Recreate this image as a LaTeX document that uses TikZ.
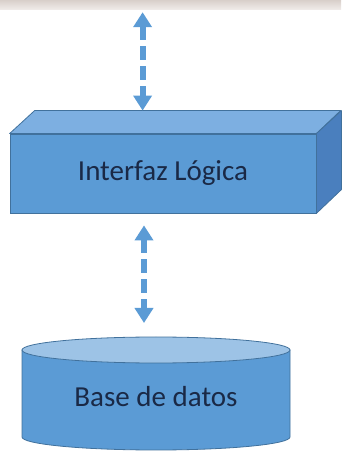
\documentclass[tikz,border=0pt]{standalone}
\usepackage{fontspec}
\setmainfont{Carlito}
\usetikzlibrary{arrows.meta,positioning,calc}
\definecolor{flechaazul}{HTML}{5B9BD5}
\definecolor{frenteazul}{HTML}{5B9BD5}
\definecolor{tapaazul}{HTML}{7DAFE1}
\definecolor{ladoazul}{HTML}{4A7FBE}
\definecolor{bordeazul}{HTML}{41719C}
\definecolor{cilazul}{HTML}{5B9BD5}
\definecolor{cilclaro}{HTML}{9DC3E6}
\definecolor{textoazul}{HTML}{1A2946}
\definecolor{franjaoscura}{HTML}{D8CFCA}
\definecolor{franjaclara}{HTML}{F1EDEB}

\begin{document}
\begin{tikzpicture}[
  x=1pt, y=1pt,
  flecha/.style={{Triangle[width=18pt,length=15pt]}-{Triangle[width=18pt,length=15pt]}, draw=flechaazul, line width=6pt, dash pattern=on 14pt off 6pt},
  franja/.style={minimum width=341pt, minimum height=10pt, inner sep=0pt, top color=franjaoscura, bottom color=franjaclara},
  frente/.style={rectangle, draw=bordeazul, fill=frenteazul, line width=0.8pt, minimum width=306pt, minimum height=79pt, inner sep=0pt},
  cara/.style={draw=bordeazul, line width=0.8pt, line join=round},
  cilborde/.style={draw=bordeazul, line width=0.8pt},
  etiqueta/.style={font=\fontsize{29}{33}\selectfont, text=textoazul}
]
  \useasboundingbox (0,0) rectangle (341,453);

  \node[franja] (franja) at (170.5,448) {};

  \node[frente, etiqueta] (logica) at (163,279.5) {Interfaz Lógica};
  \filldraw[cara, fill=tapaazul] (logica.north west) -- ++(25,23) -- ++(306,0) -- (logica.north east) -- cycle;
  \filldraw[cara, fill=ladoazul] (logica.north east) -- ++(25,23) -- ++(0,-79) -- (logica.south east) -- cycle;
  \coordinate (tapa) at ($(logica.north west)+(133,23)$);

  \coordinate (cil) at (156,103);
  \filldraw[cilborde, fill=cilazul] (cil) ++(-134,0) -- ++(0,-87) arc[start angle=180, end angle=360, x radius=134, y radius=13] -- ++(0,87) -- cycle;
  \filldraw[cilborde, fill=cilclaro] (cil) ellipse[x radius=134, y radius=13];
  \node[etiqueta] (bd) at ($(cil)+(0,-47)$) {Base de datos};

  \coordinate (logabajo) at ($(logica.south)+(-19,-12)$);
  \coordinate (cilarriba) at ($(cil)+(-12,27)$);

  \draw[flecha, shorten <=2pt] (franja.south -| tapa) -- (tapa);
  \draw[flecha] (logabajo) -- (cilarriba);
\end{tikzpicture}
\end{document}
